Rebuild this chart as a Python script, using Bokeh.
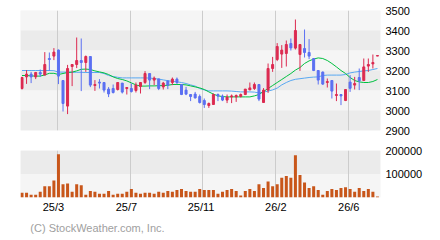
from bokeh.plotting import figure
from bokeh.layouts import column
from bokeh.models import (Range1d, FixedTicker, BoxAnnotation, Label, Grid,
                          ColumnDataSource, BasicTickFormatter)
from bokeh.embed import file_html
from bokeh.resources import INLINE

# ---- weekly OHLC (price) ----
opens = [3110, 3168, 3182, 3168, 3190, 3177, 3260, 3272, 3302, 3150,
         3022, 3220, 3230, 3250, 3240, 3270, 3125, 3142, 3140, 3107,
         3110, 3105, 3137, 3110, 3110, 3100, 3120, 3140, 3185, 3152,
         3158, 3118, 3147, 3140, 3157, 3130, 3102, 3080, 3082, 3070,
         3050, 3025, 3030, 3080, 3072, 3052, 3068, 3068, 3070, 3080,
         3103, 3110, 3130, 3040, 3102, 3210, 3255, 3282, 3285, 3335,
         3312, 3280, 3310, 3290, 3260, 3200, 3192, 3140, 3150, 3075,
         3080, 3050, 3142, 3127, 3165, 3150, 3222, 3233, 3272]
highs = [3168, 3202, 3193, 3193, 3205, 3292, 3290, 3312, 3305, 3152,
         3228, 3232, 3365, 3360, 3275, 3270, 3152, 3157, 3140, 3117,
         3130, 3142, 3137, 3117, 3135, 3140, 3142, 3197, 3187, 3170,
         3158, 3143, 3152, 3165, 3165, 3130, 3118, 3080, 3093, 3080,
         3060, 3040, 3085, 3085, 3080, 3080, 3080, 3080, 3085, 3107,
         3140, 3140, 3132, 3112, 3235, 3268, 3337, 3327, 3350, 3360,
         3455, 3332, 3405, 3357, 3262, 3202, 3195, 3160, 3152, 3135,
         3082, 3107, 3177, 3168, 3210, 3260, 3260, 3280, 3275]
lows = [3105, 3133, 3137, 3157, 3168, 3177, 3198, 3252, 3132, 2995,
        2982, 3122, 3212, 3097, 3193, 3117, 3098, 3110, 3090, 3067,
        3085, 3100, 3085, 3080, 3090, 3090, 3085, 3133, 3107, 3127,
        3102, 3105, 3107, 3127, 3132, 3077, 3077, 3047, 3060, 3035,
        3013, 3013, 3030, 3047, 3047, 3037, 3037, 3043, 3065, 3077,
        3102, 3103, 3047, 3038, 3088, 3193, 3247, 3213, 3220, 3300,
        3305, 3198, 3265, 3257, 3197, 3130, 3128, 3115, 3060, 3047,
        3027, 3047, 3093, 3105, 3102, 3147, 3193, 3210, 3272]
closes = [3165, 3182, 3168, 3190, 3182, 3230, 3255, 3292, 3172, 3035,
          3210, 3230, 3250, 3240, 3270, 3127, 3130, 3137, 3102, 3083,
          3090, 3140, 3092, 3115, 3095, 3127, 3140, 3185, 3152, 3162,
          3110, 3137, 3127, 3157, 3140, 3080, 3082, 3070, 3063, 3040,
          3030, 3035, 3080, 3072, 3052, 3067, 3073, 3075, 3080, 3107,
          3113, 3130, 3057, 3102, 3210, 3230, 3320, 3302, 3330, 3313,
          3400, 3330, 3290, 3272, 3200, 3152, 3132, 3145, 3097, 3080,
          3073, 3105, 3111, 3135, 3148, 3218, 3230, 3240, 3275]
# ---- moving averages ----
ma_short = [3175, 3175, 3173, 3172, 3172, 3178, 3186, 3186, 3180, 3185,
            3190, 3192, 3198, 3206, 3207, 3205, 3198, 3193, 3188, 3180,
            3168, 3160, 3155, 3148, 3138, 3128, 3122, 3122, 3123, 3123,
            3124, 3125, 3126, 3130, 3130, 3130, 3128, 3123, 3118, 3113,
            3105, 3093, 3082, 3073, 3070, 3068, 3068, 3068, 3068, 3068,
            3068, 3073, 3080, 3095, 3110, 3125, 3140, 3155, 3170, 3185,
            3202, 3215, 3235, 3248, 3257, 3263, 3260, 3250, 3235, 3218,
            3200, 3185, 3165, 3150, 3143, 3140, 3140, 3145, 3155]
ma_long = [3200, 3200, 3200, 3200, 3200, 3200, 3200, 3199, 3192, 3192,
           3192, 3191, 3191, 3191, 3190, 3190, 3190, 3190, 3185, 3175,
           3170, 3166, 3163, 3163, 3163, 3163, 3163, 3163, 3162, 3160,
           3157, 3153, 3149, 3146, 3143, 3140, 3135, 3128, 3122, 3110,
           3103, 3098, 3098, 3098, 3098, 3098, 3097, 3095, 3093, 3093,
           3093, 3092, 3088, 3092, 3097, 3103, 3112, 3128, 3140, 3150,
           3156, 3159, 3162, 3165, 3167, 3168, 3175, 3177, 3177, 3177,
           3177, 3180, 3188, 3192, 3195, 3198, 3200, 3205, 3210]
# ---- weekly volume ----
volumes = [20000, 20000, 12000, 12000, 24000, 48000, 48000, 72000, 184000, 56000,
           60000, 24000, 56000, 52000, 12000, 28000, 24000, 16000, 16000, 28000,
           12000, 16000, 16000, 24000, 36000, 20000, 16000, 20000, 20000, 16000,
           24000, 20000, 28000, 24000, 32000, 36000, 28000, 24000, 24000, 36000,
           32000, 32000, 32000, 16000, 24000, 32000, 36000, 28000, 8000, 28000,
           36000, 28000, 56000, 40000, 68000, 48000, 56000, 84000, 92000, 84000,
           180000, 96000, 64000, 40000, 48000, 32000, 12000, 28000, 36000, 32000,
           40000, 44000, 36000, 24000, 40000, 28000, 36000, 24000, 4000]

x_grid_pos = [7.7, 23.7, 39.7, 55.7, 71.7]
x_label_pos = [6.9, 22.9, 39.3, 55.7, 71.7]
x_tick_labels = ["25/3", "25/7", "25/11", "26/2", "26/6"]
price_ticks = [2900, 3000, 3100, 3200, 3300, 3400, 3500]
vol_ticks = [100000, 200000]
vol_band_edges = [0, 100000, 200000]
copyright_text = "(C) StockWeather.com, Inc."

RED = "#DC2A50"
BLUE = "#5B70F2"
GREEN = "#00C040"
LBLUE = "#58A8F2"
VOLC = "#C8561A"
LIGHT = "#F5F5F5"
DARK = "#EBEBEB"
GRIDC = "#CCCCCC"
FONT = "Liberation Sans"

n = len(opens)
idx = list(range(n))
xr = Range1d(-0.33, n - 0.33)


def style_axis(ax, ticks):
    ax.ticker = FixedTicker(ticks=ticks)
    ax.axis_line_color = None
    ax.major_tick_line_color = None
    ax.minor_tick_line_color = None
    ax.major_tick_out = 0
    ax.major_tick_in = 0
    ax.minor_tick_out = 0
    ax.minor_tick_in = 0
    ax.major_label_text_font = FONT
    ax.major_label_text_font_size = "11px"
    ax.major_label_text_color = "#000000"


def add_bands(fig, edges, top_light):
    pairs = list(zip(edges[:-1], edges[1:]))[::-1]
    for k, (b, t) in enumerate(pairs):
        light = (k % 2 == 0) == top_light
        fig.add_layout(BoxAnnotation(bottom=b, top=t, fill_color=LIGHT if light else DARK,
                                     fill_alpha=1, line_color=None, level="image"))


def base_fig(height, yr, top, bottom, xaxis):
    f = figure(width=440, height=height, x_range=xr, y_range=yr,
               output_backend="svg", toolbar_location=None,
               min_border_left=20, min_border_right=60,
               min_border_top=top, min_border_bottom=bottom,
               y_axis_location="right", x_axis_location=xaxis)
    f.outline_line_color = None
    f.background_fill_color = LIGHT
    f.border_fill_color = "#FFFFFF"
    f.xgrid.grid_line_color = None
    f.ygrid.grid_line_color = None
    f.add_layout(Grid(dimension=0, ticker=FixedTicker(ticks=x_grid_pos),
                      grid_line_color=GRIDC, grid_line_width=1))
    return f


# ---------------- price panel ----------------
p = base_fig(140, Range1d(price_ticks[0], price_ticks[-1]), 10, 10, None)
style_axis(p.yaxis[0], price_ticks)
p.yaxis.major_label_standoff = 5
add_bands(p, price_ticks, True)

p.line(idx, ma_long, line_color=LBLUE, line_width=1)
p.line(idx, ma_short, line_color=GREEN, line_width=1)

src = ColumnDataSource(dict(
    x=idx, high=highs, low=lows,
    top=[max(o, c) for o, c in zip(opens, closes)],
    bottom=[min(o, c) for o, c in zip(opens, closes)],
    color=[RED if c >= o else BLUE for o, c in zip(opens, closes)],
))
p.segment(x0="x", y0="low", x1="x", y1="high", line_color="color", line_width=1, source=src)
p.vbar(x="x", width=0.44, top="top", bottom="bottom", fill_color="color",
       line_color="color", line_width=1, source=src)

# ---------------- volume panel ----------------
v = base_fig(75, Range1d(vol_band_edges[0], vol_band_edges[-1]), 10, 15, "below")
style_axis(v.yaxis[0], vol_ticks)
v.yaxis.formatter = BasicTickFormatter(use_scientific=False)
v.yaxis.major_label_standoff = 5
style_axis(v.xaxis[0], x_label_pos)
v.xaxis.major_label_overrides = {pos: lab for pos, lab in zip(x_label_pos, x_tick_labels)}
v.xaxis.major_label_standoff = 3
add_bands(v, vol_band_edges, False)

v.vbar(x=idx, top=volumes, width=0.66, fill_color=VOLC, line_color=None)

# ---------------- copyright strip ----------------
c = figure(width=440, height=25, x_range=Range1d(0, 440), y_range=Range1d(0, 25),
           output_backend="svg", toolbar_location=None,
           x_axis_location=None, y_axis_location=None,
           min_border_left=0, min_border_right=0, min_border_top=0, min_border_bottom=0)
c.outline_line_color = None
c.background_fill_color = "#FFFFFF"
c.border_fill_color = "#FFFFFF"
c.xgrid.grid_line_color = None
c.ygrid.grid_line_color = None
c.add_layout(Label(x=12, y=12.5, text=copyright_text,
                   text_font=FONT, text_font_size="11px", text_color="#A0A0A0",
                   text_align="left", text_baseline="middle"))

layout = column(p, v, c)
open("out.html", "w").write(file_html(layout, INLINE))
